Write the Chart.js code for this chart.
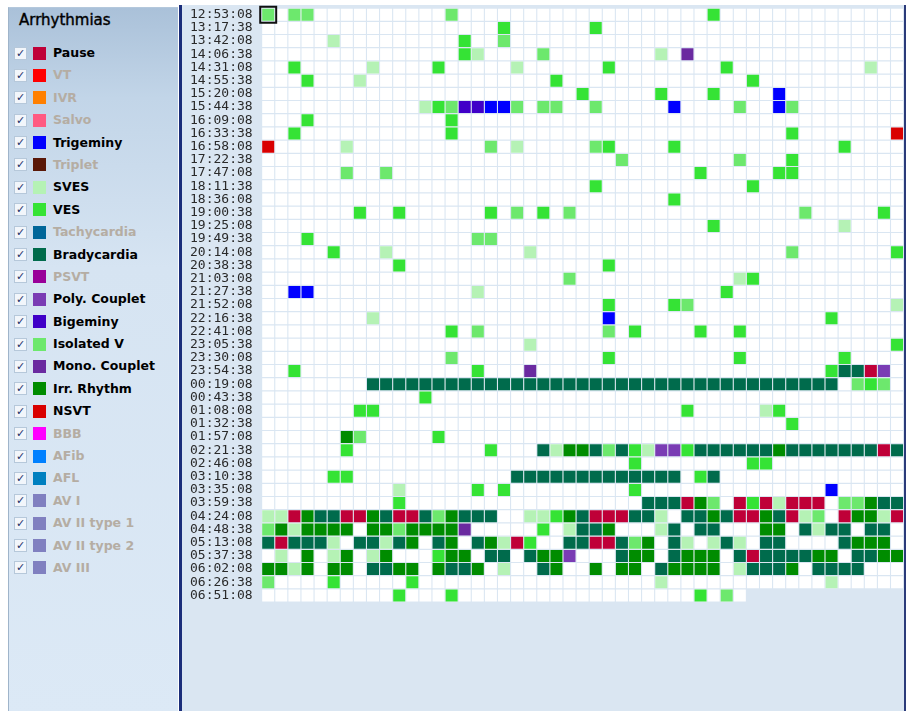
<!DOCTYPE html>
<html lang="en">
<head>
<meta charset="UTF-8">
<title>Arrhythmias</title>
<script src="https://cdn.jsdelivr.net/npm/chart.js"></script>
<style>
  body { margin:0; background:#fff; width:912px; height:711px; position:relative; overflow:hidden; font-family:"DejaVu Sans", sans-serif; }
  #side { position:absolute; left:8px; top:7px; width:169px; height:710px; border-left:1px solid #9fb4ca; border-top:1px solid #b4c8dc;
          background:linear-gradient(#aac1d9 0px, #c2d5e8 90px, #d6e4f2 260px, #dce9f6 710px); }
  #title { position:absolute; left:19px; top:11px; font-size:15px; color:#000; -webkit-text-stroke:0.4px #000; }
  .cb { position:absolute; width:11px; height:11px; border:1px solid #b6c8da; background:#f2f6fb; font-size:11px; line-height:11px;
        text-align:center; color:#23306a; font-weight:bold; }
  .sw { position:absolute; width:13px; height:13px; }
  .lb { position:absolute; font-size:12.5px; font-weight:bold; line-height:16px; white-space:nowrap; }
  #bar { position:absolute; left:179px; top:5px; width:3px; height:706px; background:#1b2e7a; }
  #main { position:absolute; left:182px; top:5px; width:722px; height:706px; background:#dae6f2; }
  #edge { position:absolute; left:904px; top:5px; width:2px; height:706px; background:#2b3b7a; }
  #wrap { position:absolute; left:182px; top:0; width:722px; height:711px; }
</style>
</head>
<body>
<div id="side"></div>
<div id="title">Arrhythmias</div>
<div id="bar"></div>
<div id="main"></div>
<div id="edge"></div>
<div id="wrap"><canvas id="grid"></canvas></div>
<script>
// legend categories
const catNames = ['Pause', 'VT', 'IVR', 'Salvo', 'Trigeminy', 'Triplet', 'SVES', 'VES', 'Tachycardia', 'Bradycardia', 'PSVT',
  'Poly. Couplet', 'Bigeminy', 'Isolated V', 'Mono. Couplet', 'Irr. Rhythm', 'NSVT', 'BBB', 'AFib', 'AFL', 'AV I',
  'AV II type 1', 'AV II type 2', 'AV III'];
const catColors = ['#bf0038', '#ff0000', '#ff8000', '#ff5a82', '#0000ff', '#5a1808', '#b5f2b5', '#35e335', '#006699', '#006b4c', '#990099',
  '#7a3cb4', '#4000c8', '#6de86d', '#6a2aa0', '#008c00', '#d90000', '#ff00ff', '#0080ff', '#0080c0', '#8080c0',
  '#8080c0', '#8080c0', '#8080c0'];
const catActive = [1, 0, 0, 0, 1, 0, 1, 1, 0, 1, 0, 1, 1, 1, 1, 1, 1, 0, 0, 0, 0, 0, 0, 0];
// one letter per category used in the grid rows
const catCodes = ['P', '', '', '', 'T', '', 'S', 'V', '', 'B', '', 'C', 'G', 'I', 'M', 'R', 'N', '', '', '', '', '', '', ''];

// row start times
const timeLabels = ['12:53:08', '13:17:38', '13:42:08', '14:06:38', '14:31:08', '14:55:38', '15:20:08', '15:44:38', '16:09:08',
  '16:33:38', '16:58:08', '17:22:38', '17:47:08', '18:11:38', '18:36:08', '19:00:38', '19:25:08', '19:49:38', '20:14:08',
  '20:38:38', '21:03:08', '21:27:38', '21:52:08', '22:16:38', '22:41:08', '23:05:38', '23:30:08', '23:54:38', '00:19:08',
  '00:43:38', '01:08:08', '01:32:38', '01:57:08', '02:21:38', '02:46:08', '03:10:38', '03:35:08', '03:59:38', '04:24:08',
  '04:48:38', '05:13:08', '05:37:38', '06:02:08', '06:26:38', '06:51:08'];

// one string per row, one char per 30 s cell ('.' = nothing)
const cellRows = [
  'I.II......' + '....I.....' + '..........' + '....V.....' + '.........',
  '..........' + '........V.' + '.....V....' + '..........' + '.........',
  '.....S....' + '.....V..I.' + '..........' + '..........' + '.........',
  '..........' + '.....VS...' + '.I........' + 'S.M.......' + '.........',
  '..V.....S.' + '...V.....S' + '......V...' + '.....V....' + '......S..',
  '...V...S..' + '..........' + '..V.......' + '.......V..' + '.........',
  '..........' + '..........' + '....V.....' + 'V...V....T' + '.........',
  '..........' + '..SVIGGTTI' + '.II..I....' + '.T....I..T' + 'I........',
  '...V......' + '....V.....' + '..........' + '..........' + '.........',
  '..V.......' + '....V.....' + '..........' + '..........' + 'V.......N',
  'N.....S...' + '.......I.S' + '.....IV...' + '.V........' + '....V....',
  '..........' + '..........' + '.......I..' + '......I...' + 'V........',
  '......I..I' + '..........' + '..........' + '...V.....V' + 'V........',
  '..........' + '..........' + '.....V....' + '.......V..' + '.........',
  '..........' + '..........' + '..........' + '.V........' + '.........',
  '.......V..' + 'V......V.I' + '.V.I......' + '..........' + '.I.....V.',
  '..........' + '..........' + '..........' + '....V.....' + '....S....',
  '...V......' + '......II..' + '..........' + '..........' + '.........',
  '.....V...S' + '..........' + 'S.........' + '..........' + 'I.......V',
  '..........' + 'V.........' + '......V...' + '..........' + '.........',
  '..........' + '..........' + '...I......' + '......SV..' + '.........',
  '..TT......' + '......S...' + '..........' + '.....V....' + '.........',
  '..........' + '..........' + '......V...' + '.VI.......' + '........S',
  '........S.' + '..........' + '......T...' + '..........' + '...V.....',
  '..........' + '....V.I...' + '......I.V.' + '...V..V...' + '.........',
  '..........' + '..........' + 'S.........' + '..........' + '........V',
  '..........' + '....I.....' + '......V...' + '......V...' + '....V....',
  '..V.......' + '......V...' + 'M.........' + '..........' + '...VBBPC.',
  '........BB' + 'BBBBBBBBBB' + 'BBBBBBBBBB' + 'BBBBBBBBBB' + 'BBBB.IVI.',
  '..........' + '..V.......' + '..........' + '..........' + '.........',
  '.......VV.' + '..........' + '..........' + '..V.....SV' + '.........',
  '..........' + '..........' + '..........' + '..........' + 'V........',
  '......RI..' + '...V......' + '..........' + '..........' + '.........',
  '......V...' + '.......V..' + '.BSRRBIBVS' + 'CCVBBBBBBR' + 'BBBBBBBPB',
  '..........' + '..........' + '........V.' + '.......VV.' + '.........',
  '.....VV...' + '.........B' + 'BBBBBBBBBB' + 'BB.VB.....' + '.........',
  '..........' + 'S.....V.V.' + '........V.' + '..........' + '...T.....',
  '..........' + 'V.........' + '.........B' + 'BBPRI.PVPS' + 'PPP.IIRBB',
  'SSPRBBPPRB' + 'PPBIRBBB..' + 'SSVRBPPPBB' + 'S.BBRBPPRB' + 'PSI.PRRSP',
  'IRSRRRR.RR' + 'IRRRRM....' + '.V.SBBR...' + 'SB.BB...RR' + '.BSBB.BB.',
  'BPBBBS.BBS' + 'BR.BR.BRSP' + 'V..BBPPBIR' + '.BS.SBS.BB' + '....BRRR.',
  '.S.R.SR.SR' + '...VRR.BB.' + 'BRRC...BRR' + '.BRRR.BPBB' + 'BBRR.BBRR',
  'RRSR.RR.BB' + 'RR.RBBR.S.' + '.BR..R.RR.' + 'BRRRR.SBBB' + 'R.BBBB...',
  'I....V....' + '.V........' + '..........' + 'S.........' + '...S.....',
  '..........' + 'V...V.....' + '..........' + '...V.I.'
];
const selectedCell = { x: 0, y: 0 };

// legend panel
catNames.forEach((name, i) => {
  const yc = 53 + 22.39 * i;
  const cb = document.createElement('div');
  cb.className = 'cb';
  cb.style.left = '14px';
  cb.style.top = (yc - 6.5) + 'px';
  cb.textContent = '\u2713';
  document.body.appendChild(cb);
  const sw = document.createElement('div');
  sw.className = 'sw';
  sw.style.left = '33px';
  sw.style.top = (yc - 6.5) + 'px';
  sw.style.background = catColors[i];
  document.body.appendChild(sw);
  const lb = document.createElement('div');
  lb.className = 'lb';
  lb.style.left = '53px';
  lb.style.top = (yc - 8) + 'px';
  lb.style.color = catActive[i] ? '#000' : '#b5ada3';
  lb.textContent = name;
  document.body.appendChild(lb);
});

// grid
const cellRadius = 8.5; // rect side = r * sqrt(2) ~ 12px
const datasets = [];
datasets.push({
  label: 'selected', data: [selectedCell], pointStyle: 'rect', pointRadius: 11.3,
  backgroundColor: 'rgba(0,0,0,0)', borderColor: '#111', borderWidth: 2, clip: false, order: 0
});
catCodes.forEach((code, i) => {
  if (!code) return;
  const pts = [];
  cellRows.forEach((row, r) => {
    for (let c = 0; c < row.length; c++) if (row[c] === code) pts.push({ x: c, y: r });
  });
  datasets.push({
    label: catNames[i], data: pts, pointStyle: 'rect', pointRadius: cellRadius,
    backgroundColor: catColors[i], borderWidth: 0, order: 1
  });
});
const blank = [];
cellRows.forEach((row, r) => {
  for (let c = 0; c < row.length; c++) blank.push({ x: c, y: r });
});
datasets.push({
  label: 'cells', data: blank, pointStyle: 'rect', pointRadius: cellRadius,
  backgroundColor: '#ffffff', borderWidth: 0, order: 2
});

new Chart(document.getElementById('grid'), {
  type: 'scatter',
  data: { datasets: datasets },
  options: {
    responsive: true,
    maintainAspectRatio: false,
    animation: false,
    events: [],
    layout: { autoPadding: false, padding: { top: 8.1, bottom: 108.9, left: 0, right: 0.4 } },
    plugins: { legend: { display: false }, tooltip: { enabled: false } },
    scales: {
      x: { type: 'linear', min: -0.5, max: 48.5, display: false },
      y: {
        type: 'linear', reverse: true, min: -0.5, max: timeLabels.length - 0.5,
        afterBuildTicks: s => { s.ticks = timeLabels.map((_, i) => ({ value: i })); },
        afterFit: s => { s.width = 79.65; s.paddingTop = 0; s.paddingBottom = 0; },
        grid: { display: false, drawTicks: false },
        border: { display: false },
        ticks: {
          autoSkip: false, padding: 9, color: '#2a2a2a',
          font: { family: 'DejaVu Sans Mono', size: 13 },
          callback: v => timeLabels[v] || ''
        }
      }
    }
  }
});
</script>
</body>
</html>
